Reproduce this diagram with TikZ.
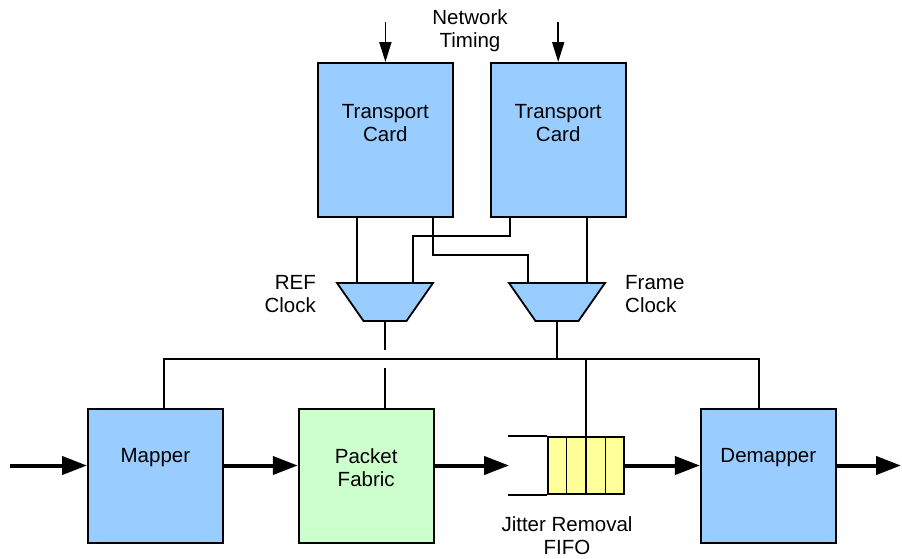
\documentclass[tikz,border=0pt]{standalone}
\usepackage{fontspec}
\setmainfont{Liberation Sans}
\usetikzlibrary{calc,positioning,shapes.geometric,arrows.meta}
\definecolor{BlkBlue}{HTML}{99CCFF}
\definecolor{BlkGreen}{HTML}{CCFFCC}
\definecolor{BlkYellow}{HTML}{FFFF99}
\tikzset{
  blkBase/.style={
    draw=black,
    line width=1.8pt,
    inner sep=0pt
  },
  blkCard/.style={
    blkBase,
    fill=BlkBlue,
    minimum width=135pt,
    minimum height=154pt
  },
  blkUnit/.style={
    blkBase,
    fill=BlkBlue,
    minimum width=135pt,
    minimum height=134pt
  },
  blkMux/.style={
    blkBase,
    inner sep=2pt,
    fill=BlkBlue,
    trapezium,
    trapezium stretches=true,
    shape border rotate=180,
    trapezium angle=58.3,
    minimum width=96pt,
    minimum height=38pt
  },
  blkFifo/.style={
    blkBase,
    fill=BlkYellow,
    minimum width=76pt,
    minimum height=57pt
  },
  blkText/.style={
    font=\fontsize{20.5pt}{23pt}\selectfont,
    inner sep=0pt,
    align=center
  },
  sigLine/.style={
    line width=1.8pt
  },
  sigArrow/.style={
    line width=1.8pt,
    -{Triangle[length=20pt,width=12pt]}
  },
  dataArrow/.style={
    line width=4pt,
    -{Triangle[length=25pt,width=18pt]}
  }
}
\begin{document}
\begin{tikzpicture}[x=1pt, y=-1pt]
    \useasboundingbox (0,0) rectangle (902,558);

    % Tarjetas de transporte
    \node (card1) [blkCard, anchor=north west, label={[blkText, yshift=17pt]center:Transport\\Card}] at (317,62) {};
    \node (card2) [blkCard, right=36pt of card1, label={[blkText, yshift=17pt]center:Transport\\Card}] {};

    \node (nettime) [blkText] at (470,31) {Network\\Timing};
    \coordinate (ntA) at ([yshift=40pt]card1.north);
    \coordinate (ntB) at ([yshift=40pt]card2.north);
    \draw [sigArrow] (ntA) -- (card1.north);
    \draw [sigArrow] (ntB) -- (card2.north);

    % Selectores de reloj
    \node (mux1) [blkMux] at (385,302) {};
    \node (mux2) [blkMux] at (557,302) {};
    \node (refclk) [blkText, align=right, anchor=east] at (316,294) {REF\\Clock};
    \node (frmclk) [blkText, align=left, anchor=west] at (625,294) {Frame\\Clock};

    \draw [sigLine] ([xshift=-28.5pt]card1.south) -- ([xshift=-28.5pt]card1.south |- mux1.north);
    \draw [sigLine] ([xshift=28.5pt]card2.south) -- ([xshift=28.5pt]card2.south |- mux2.north);
    \draw [sigLine] ([xshift=47.5pt]card1.south) -- ++(0,37) -| ([xshift=-29pt]mux2.north);
    \draw [sigLine] ([xshift=-48.5pt]card2.south) -- ++(0,18) -| ([xshift=28pt]mux1.north);

    % Fila de datos
    \node (mapper) [blkUnit, anchor=north west, label={[blkText, yshift=18pt]center:Mapper}] at (87,408) {};
    \node (fabric) [blkUnit, fill=BlkGreen, right=74pt of mapper, label={[blkText, yshift=8pt]center:Packet\\Fabric}] {};
    \node (fifo) [blkFifo] at (586,465.5) {};
    \node (demapper) [blkUnit, anchor=west, label={[blkText, yshift=18pt]center:Demapper}] at ([xshift=75pt]fifo.east |- mapper) {};
    \node (fifolbl) [blkText] at (567,536) {Jitter Removal\\FIFO};

    \foreach \k in {1,2,3}
      \draw [sigLine] ($(fifo.north west)!\k/4!(fifo.north east)$) -- ($(fifo.south west)!\k/4!(fifo.south east)$);
    \draw [sigLine] (fifo.north west) -- ++(-39,0);
    \draw [sigLine] (fifo.south west) -- ++(-39,0);

    % Bus de reloj
    \coordinate (bus) at (0,359);
    \coordinate (hop) at (mux1.south |- bus);
    \draw [sigLine] ([xshift=8.5pt]mapper.north) -- ([xshift=8.5pt]mapper.north |- bus) -- ([xshift=-9.5pt]demapper.north |- bus) -- ([xshift=-9.5pt]demapper.north);
    \draw [sigLine] (mux2.south) -- (mux2.south |- bus);
    \draw [sigLine] (fifo.north) -- (fifo.north |- bus);
    \draw [sigLine] (mux1.south) -- ([yshift=9pt]hop);
    \draw [sigLine] ([yshift=-9pt]hop) -- (hop |- fabric.north);

    % Flechas de datos
    \coordinate (src) at (10,465.5);
    \coordinate (sink) at (901,465.5);
    \coordinate (fifoin) at ([xshift=-38pt]fifo.west);
    \draw [dataArrow] (src) -- (mapper.west |- src);
    \draw [dataArrow] (mapper.east |- src) -- (fabric.west |- src);
    \draw [dataArrow] (fabric.east |- src) -- (fifoin);
    \draw [dataArrow] (fifo.east) -- (demapper.west |- fifo);
    \draw [dataArrow] (demapper.east |- fifo) -- (sink);
\end{tikzpicture}
\end{document}
